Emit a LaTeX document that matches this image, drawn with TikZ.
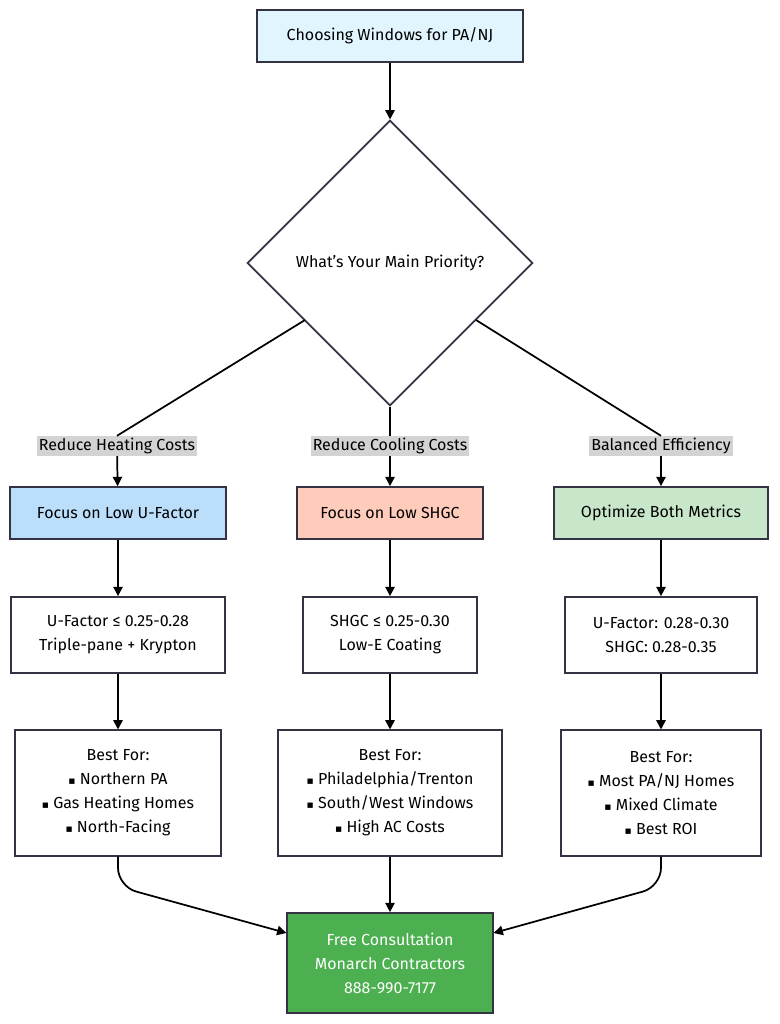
\documentclass[tikz,border=0pt]{standalone}
\usepackage{fontspec}
\setmainfont{Fira Sans}
\newfontfamily\symfont{DejaVu Sans}
\usetikzlibrary{positioning,shapes.geometric,arrows.meta}
\definecolor{startfill}{HTML}{E1F5FE}
\definecolor{heatfill}{HTML}{BBDEFB}
\definecolor{coolfill}{HTML}{FFCCBC}
\definecolor{balfill}{HTML}{C8E6C9}
\definecolor{endfill}{HTML}{4CAF50}
\definecolor{edgecol}{HTML}{333344}
\definecolor{labelfill}{HTML}{D3D3D3}
\newcommand{\bul}{{\symfont\footnotesize▪}\ }
\tikzset{
  flowbox/.style={draw=edgecol, line width=1.3pt, fill=white, align=center, font=\fontsize{12}{18}\selectfont, inner sep=0pt},
  choice/.style={diamond, draw=edgecol, line width=1.3pt, fill=white, minimum width=214pt, minimum height=214pt, inner sep=0pt, font=\fontsize{12}{14}\selectfont},
  edgelabel/.style={fill=labelfill, inner sep=1.5pt, font=\fontsize{12}{14}\selectfont},
  flow/.style={line width=1.3pt, draw=black, -{Triangle[length=7pt,width=7pt]}},
  link/.style={line width=1.3pt, draw=black}
}
\begin{document}
\begin{tikzpicture}[x=0.75pt,y=-0.75pt]
\useasboundingbox (0,0) rectangle (779,1024);
\node (start) at (390,36) [flowbox, fill=startfill, minimum width=200pt, minimum height=39pt] {Choosing Windows for PA/NJ};
\node (priority) at (390,263) [choice] {What's Your Main Priority?};
\draw[flow] (start) -- (priority);

\node (heatlabel) at (117,446) [edgelabel] {Reduce Heating Costs};
\node (coollabel) at (390,446) [edgelabel] {Reduce Cooling Costs};
\node (ballabel) at (661,446) [edgelabel] {Balanced Efficiency};
\draw[link] (305,320) -- (heatlabel.north);
\draw[link] (priority.south) -- (coollabel.north);
\draw[link] (476,320) -- (ballabel.north);

% heating branch
\node (heatfocus) at (118,513) [flowbox, fill=heatfill, minimum width=162pt, minimum height=39pt] {Focus on Low U-Factor};
\node (heatspec) at (118,635) [flowbox, minimum width=161pt, minimum height=57pt] {U-Factor ≤ 0.25-0.28\\Triple-pane + Krypton};
\node (heatbest) at (118,793) [flowbox, minimum width=154pt, minimum height=94pt] {Best For:\\\bul Northern PA\\\bul Gas Heating Homes\\\bul North-Facing};
\draw[flow] (heatlabel) -- (heatfocus);
\draw[flow] (heatfocus) -- (heatspec);
\draw[flow] (heatspec) -- (heatbest);

% cooling branch
\node (coolfocus) at (390,513) [flowbox, fill=coolfill, minimum width=139pt, minimum height=39pt] {Focus on Low SHGC};
\node (coolspec) at (390,635) [flowbox, minimum width=130pt, minimum height=57pt] {SHGC ≤ 0.25-0.30\\Low-E Coating};
\node (coolbest) at (390,793) [flowbox, minimum width=168pt, minimum height=94pt] {Best For:\\\bul Philadelphia/Trenton\\\bul South/West Windows\\\bul High AC Costs};
\draw[flow] (coollabel) -- (coolfocus);
\draw[flow] (coolfocus) -- (coolspec);
\draw[flow] (coolspec) -- (coolbest);

% balanced branch
\node (balfocus) at (661,513) [flowbox, fill=balfill, minimum width=161pt, minimum height=39pt] {Optimize Both Metrics};
\node (balspec) at (661,635) [flowbox, minimum width=144pt, minimum height=57pt] {U-Factor: 0.28-0.30\\SHGC: 0.28-0.35};
\node (balbest) at (661,793) [flowbox, minimum width=150pt, minimum height=94pt] {Best For:\\\bul Most PA/NJ Homes\\\bul Mixed Climate\\\bul Best ROI};
\draw[flow] (ballabel) -- (balfocus);
\draw[flow] (balfocus) -- (balspec);
\draw[flow] (balspec) -- (balbest);

\node (consult) at (390,963) [flowbox, fill=endfill, text=white, minimum width=154pt, minimum height=75pt] {Free Consultation\\Monarch Contractors\\888-990-7177};
\draw[flow, rounded corners=14pt] (heatbest.south) -- ++(0,30) -- (consult.west |- 0,933);
\draw[flow] (coolbest) -- (consult);
\draw[flow, rounded corners=14pt] (balbest.south) -- ++(0,30) -- (consult.east |- 0,933);
\end{tikzpicture}
\end{document}
